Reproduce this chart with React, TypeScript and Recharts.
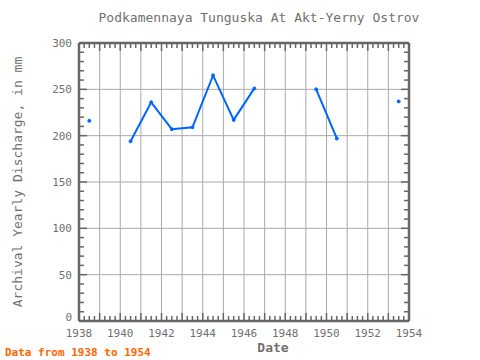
import React from "react";
import { LineChart, Line, XAxis, YAxis, CartesianGrid } from "recharts";

const YEARS = [1938.5, 1939.5, 1940.5, 1941.5, 1942.5, 1943.5, 1944.5, 1945.5, 1946.5, 1947.5, 1948.5, 1949.5, 1950.5, 1951.5, 1952.5, 1953.5];
const DISCHARGE = [216, null, 194, 236, 207, 209, 265, 217, 251, null, null, 250, 197, null, null, 237];

const X_MAJOR = [1938, 1939, 1940, 1941, 1942, 1943, 1944, 1945, 1946, 1947, 1948, 1949, 1950, 1951, 1952, 1953, 1954];
const X_MINOR = X_MAJOR.flatMap((y) => [y, y + 0.25, y + 0.5, y + 0.75]).filter((v) => v <= 1954);
const Y_MAJOR = [0, 50, 100, 150, 200, 250, 300];
const Y_MINOR = Array.from({ length: 31 }, (_, i) => i * 10);

const data = YEARS.map((year, i) => ({ year, value: DISCHARGE[i] }));

const AXIS = "#666666";
const GRID = "#aaaaaa";
const TEXT = "#707070";
const BLUE = "#0066ff";
const FONT = "'DejaVu Sans Mono', monospace";

const BottomTick = (p: any) => {
  const v = p.payload.value;
  const major = Number.isInteger(v);
  return (
    <g>
      <line x1={p.x} y1={p.y} x2={p.x} y2={p.y - (major ? 8 : 5)} stroke={AXIS} strokeWidth={1.5} />
      {major && v % 2 === 0 && (
        <text x={p.x} y={p.y + 16} textAnchor="middle" fontFamily={FONT} fontSize={11} fill={TEXT}>
          {v}
        </text>
      )}
    </g>
  );
};
const TopTick = (p: any) => {
  const major = Number.isInteger(p.payload.value);
  return <line x1={p.x} y1={p.y} x2={p.x} y2={p.y + (major ? 8 : 5)} stroke={AXIS} strokeWidth={1.5} />;
};
const LeftTick = (p: any) => {
  const v = p.payload.value;
  const major = v % 50 === 0;
  return (
    <g>
      <line x1={p.x} y1={p.y} x2={p.x + (major ? 8 : 5)} y2={p.y} stroke={AXIS} strokeWidth={1.5} />
      {major && (
        <text x={p.x - 7} y={p.y + (v === 0 ? 0 : 4)} textAnchor="end" fontFamily={FONT} fontSize={11} fill={TEXT}>
          {v}
        </text>
      )}
    </g>
  );
};
const RightTick = (p: any) => {
  const major = p.payload.value % 50 === 0;
  return <line x1={p.x} y1={p.y} x2={p.x - (major ? 8 : 5)} y2={p.y} stroke={AXIS} strokeWidth={1.5} />;
};

export default function App() {
  return (
    <div style={{ position: "absolute", left: 0, top: 0, width: 480, height: 360, background: "#fff" }}>
      <LineChart width={480} height={360} data={data} margin={{ top: 42, right: 70, bottom: 38, left: 78 }}>
        <CartesianGrid xAxisId="xg" yAxisId="yg" stroke={GRID} strokeWidth={1} />
        <XAxis xAxisId="xg" dataKey="year" type="number" domain={[1938, 1954]} ticks={X_MAJOR} interval={0} height={0} hide allowDataOverflow />
        <YAxis yAxisId="yg" type="number" domain={[0, 300]} ticks={Y_MAJOR} interval={0} width={0} hide allowDataOverflow />
        <XAxis xAxisId="xb" dataKey="year" type="number" domain={[1938, 1954]} ticks={X_MINOR}
          height={1} tickSize={0} tickMargin={0} tickLine={false} tick={BottomTick} interval={0}
          axisLine={{ stroke: AXIS, strokeWidth: 2.5 }} allowDataOverflow />
        <XAxis xAxisId="xt" orientation="top" dataKey="year" type="number" domain={[1938, 1954]} ticks={X_MINOR}
          height={1} tickSize={0} tickMargin={0} tickLine={false} tick={TopTick} interval={0}
          axisLine={{ stroke: AXIS, strokeWidth: 2.5 }} allowDataOverflow />
        <YAxis yAxisId="yl" type="number" domain={[0, 300]} ticks={Y_MINOR} width={1}
          tickSize={0} tickMargin={0} tickLine={false} tick={LeftTick} interval={0}
          axisLine={{ stroke: AXIS, strokeWidth: 2.5 }} allowDataOverflow />
        <YAxis yAxisId="yr" orientation="right" type="number" domain={[0, 300]} ticks={Y_MINOR} width={1}
          tickSize={0} tickMargin={0} tickLine={false} tick={RightTick} interval={0}
          axisLine={{ stroke: AXIS, strokeWidth: 2.5 }} allowDataOverflow />
        <Line xAxisId="xb" yAxisId="yl" dataKey="value" stroke={BLUE} strokeWidth={2}
          dot={{ r: 1.5, fill: BLUE, stroke: BLUE, strokeWidth: 1 }} connectNulls={false} isAnimationActive={false} />
        <text x={259} y={22} textAnchor="middle" fontFamily={FONT} fontSize={13} fill={TEXT}>
          Podkamennaya Tunguska At Akt-Yerny Ostrov
        </text>
        <text x={273} y={352} textAnchor="middle" fontFamily={FONT} fontSize={13} fontWeight="bold" fill={TEXT}>
          Date
        </text>
        <text transform="translate(22,182) rotate(-90)" textAnchor="middle" fontFamily={FONT} fontSize={13} fill={TEXT}>
          Archival Yearly Discharge, in mm
        </text>
        <text x={5} y={356} fontFamily={FONT} fontSize={11} fontWeight="bold" fill="#ff6600">
          Data from 1938 to 1954
        </text>
      </LineChart>
    </div>
  );
}
